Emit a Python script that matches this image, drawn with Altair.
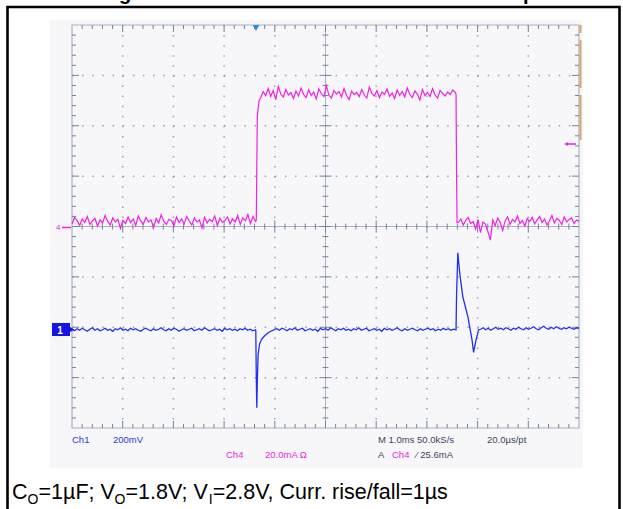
import altair as alt
import pandas as pd
import numpy as np

# ---------------- data (scope units: x 0..10 div, y -4..+4 div, 0 = centre line)
CH4_LOW_PRE = [0.05,0.18,0.12,0.02,0.15,0.08,0.20,0.04,0.11,0.16,0.01,0.13,0.07,0.22,0.10,0.03,
               0.17,0.09,0.14,-0.04,0.12,0.06,0.19,0.08,0.15,0.02,0.21,0.11,0.05,0.18,0.09,0.13,
               -0.02,0.16,0.07,0.23,0.10,0.04,0.14,0.12,0.01,0.19,0.08,0.15,0.05,0.20,0.11,0.03,
               0.17,0.09,0.13,-0.03,0.18,0.07,0.14,0.10,0.21,0.02,0.16,0.08,0.12,0.19,0.05,0.15,
               0.09,0.22,0.04,0.17,0.11,0.24,0.06,0.20,0.10]
CH4_LOW_PRE_SPAN = [0.0, 3.62]
CH4_RISE_T = [3.635, 3.645, 3.655, 3.69]
CH4_RISE_V = [0.12, 1.20, 2.20, 2.50]
CH4_HIGH = [2.55,2.68,2.60,2.74,2.58,2.70,2.52,2.78,2.63,2.57,2.72,2.61,2.66,2.54,2.69,2.59,
            2.75,2.62,2.56,2.71,2.60,2.67,2.53,2.73,2.64,2.58,2.79,2.61,2.55,2.70,2.63,2.68,
            2.57,2.74,2.60,2.52,2.69,2.62,2.66,2.58,2.72,2.61,2.55,2.77,2.64,2.59,2.70,2.56,
            2.67,2.62,2.73,2.58,2.65,2.54,2.71,2.60,2.68,2.57,2.75,2.62,2.56,2.69,2.63,2.51,
            2.72,2.60,2.66,2.58,2.74,2.61,2.55,2.70,2.64,2.59,2.67,2.62,2.71,2.66]
CH4_HIGH_SPAN = [3.72, 7.56]
CH4_FALL_T = [7.575, 7.585, 7.595]
CH4_FALL_V = [2.62, 1.00, 0.08]
CH4_LOW_POST = [0.08,0.15,0.03,0.12,0.18,0.06,0.10,-0.05,0.14,-0.12,0.09,0.05,-0.10,-0.27,0.13,
                0.02,0.17,0.08,-0.08,0.11,0.19,0.04,0.14,0.09,0.21,0.06,0.12,0.01,0.16,0.10,
                0.18,0.05,0.13,0.20,0.08,0.15,0.03,0.11,0.22,0.07,0.16,0.12,0.04,0.19,0.09,
                0.14,0.17,0.06,0.13,0.10]
CH4_LOW_POST_SPAN = [7.62, 10.0]

CH1_BASE_PRE = [-2.04,-2.07,-2.03,-2.06,-2.02,-2.05,-2.08,-2.04,-2.01,-2.06,-2.03,-2.07,-2.05,
                -2.02,-2.06,-2.04,-2.08,-2.03,-2.05,-2.01,-2.06,-2.04,-2.07,-2.02,-2.05,-2.03,
                -2.06,-2.08,-2.04,-2.02,-2.05,-2.07,-2.03,-2.06,-2.04,-2.01,-2.05,-2.07,-2.03,
                -2.06,-2.02,-2.04,-2.08,-2.05,-2.03,-2.06,-2.04,-2.02,-2.07,-2.05,-2.03,-2.06,
                -2.01,-2.04,-2.07,-2.05,-2.03,-2.06,-2.04,-2.08,-2.02,-2.05,-2.03,-2.06,-2.04,
                -2.07,-2.03,-2.05,-2.02,-2.06,-2.04,-2.07,-2.05]
CH1_BASE_PRE_SPAN = [0.0, 3.615]
CH1_SPIKE1_T = [3.625, 3.635, 3.645, 3.655, 3.67, 3.70, 3.74, 3.80, 3.87, 3.94]
CH1_SPIKE1_V = [-2.06, -3.00, -3.60, -3.10, -2.55, -2.33, -2.24, -2.17, -2.11, -2.07]
CH1_BASE_MID = [-2.05,-2.03,-2.06,-2.02,-2.04,-2.07,-2.03,-2.05,-2.01,-2.06,-2.04,-2.02,-2.07,
                -2.05,-2.03,-2.06,-2.04,-2.08,-2.02,-2.05,-2.03,-2.06,-2.01,-2.04,-2.07,-2.03,
                -2.05,-2.02,-2.06,-2.04,-2.07,-2.03,-2.05,-2.01,-2.06,-2.04,-2.02,-2.07,-2.05,
                -2.03,-2.06,-2.04,-2.08,-2.02,-2.05,-2.03,-2.06,-2.04,-2.01,-2.05,-2.07,-2.03,
                -2.06,-2.04,-2.02,-2.05,-2.07,-2.03,-2.06,-2.04,-2.02,-2.05,-2.03,-2.07,-2.04,
                -2.06,-2.02,-2.05,-2.03,-2.06,-2.04,-2.05]
CH1_BASE_MID_SPAN = [3.99, 7.575]
CH1_SPIKE2_T = [7.585, 7.61, 7.65, 7.71, 7.81, 7.89, 7.92, 7.97, 8.02]
CH1_SPIKE2_V = [-1.36, -0.52, -0.95, -1.40, -1.80, -2.25, -2.50, -2.25, -2.05]
CH1_BASE_POST = [-2.04,-2.01,-2.05,-2.02,-2.06,-2.03,-2.00,-2.04,-2.02,-2.05,-2.01,-2.03,-2.06,
                 -2.02,-2.04,-2.00,-2.03,-2.05,-2.01,-2.04,-2.02,-1.99,-2.03,-2.05,-2.01,-1.98,
                 -2.02,-2.04,-2.00,-2.03,-1.99,-2.02,-2.04,-2.01,-2.03,-2.00,-2.02,-2.04,-2.01,-2.02]
CH1_BASE_POST_SPAN = [8.06, 10.0]

# ---------------- geometry of the scope screen (pixels)
X0, X1 = 72, 579
Y0, Y1 = 25, 428
XC = (X0 + X1) / 2
YC = (Y0 + Y1) / 2
xs = alt.Scale(domain=[0, 10], range=[X0, X1])
ys = alt.Scale(domain=[-4, 4], range=[Y1, Y0])

def seg(span, vals):
    return list(np.linspace(span[0], span[1], len(vals))), list(vals)

def build(parts):
    t, v = [], []
    for pt, pv in parts:
        t += list(pt); v += list(pv)
    return pd.DataFrame({"t": t, "v": v, "o": range(len(t))})

ch4 = build([seg(CH4_LOW_PRE_SPAN, CH4_LOW_PRE), (CH4_RISE_T, CH4_RISE_V),
             seg(CH4_HIGH_SPAN, CH4_HIGH), (CH4_FALL_T, CH4_FALL_V),
             seg(CH4_LOW_POST_SPAN, CH4_LOW_POST)])
ch1 = build([seg(CH1_BASE_PRE_SPAN, CH1_BASE_PRE), (CH1_SPIKE1_T, CH1_SPIKE1_V),
             seg(CH1_BASE_MID_SPAN, CH1_BASE_MID), (CH1_SPIKE2_T, CH1_SPIKE2_V),
             seg(CH1_BASE_POST_SPAN, CH1_BASE_POST)])

GRID_X = [1, 2, 3, 4, 6, 7, 8, 9]
GRID_Y = [-3, -2, -1, 1, 2, 3]
minor_x = [round(v, 1) for v in np.arange(0, 10.01, 0.2) if abs(v - round(v)) > 1e-6]
minor_y = [round(v, 1) for v in np.arange(-4, 4.01, 0.2) if abs(v - round(v)) > 1e-6]
major_x = list(range(1, 10))
major_y = list(range(-3, 4))

one = pd.DataFrame({"a": [0]})
GRIDC = "#9aa2b8"
FRAMEC = "#a9b1c5"
TICKC = "#78829c"
MAG = "#f020e8"
BLU = "#2030f0"

layers = []
# light screen background
layers.append(alt.Chart(one).mark_rect(color="#f7f7f9").encode(
    x=alt.value(50), x2=alt.value(583), y=alt.value(20), y2=alt.value(468)))
# dotted graticule
layers.append(alt.Chart(pd.DataFrame({"g": GRID_X})).mark_rule(
    color=GRIDC, strokeWidth=1.5, strokeDash=[1.5, 8.58]).encode(
    x=alt.X("g:Q", scale=xs, axis=None), y=alt.value(Y0), y2=alt.value(Y1)))
layers.append(alt.Chart(pd.DataFrame({"g": GRID_Y})).mark_rule(
    color=GRIDC, strokeWidth=1.5, strokeDash=[1.5, 8.64]).encode(
    y=alt.Y("g:Q", scale=ys, axis=None), x=alt.value(X0), x2=alt.value(X1)))
# frame
layers.append(alt.Chart(one).mark_rect(fillOpacity=0, stroke=FRAMEC, strokeWidth=1.2).encode(
    x=alt.value(X0), x2=alt.value(X1), y=alt.value(Y0), y2=alt.value(Y1)))
# centre cross
layers.append(alt.Chart(one).mark_rule(color=FRAMEC, strokeWidth=1).encode(
    x=alt.value(XC), y=alt.value(Y0), y2=alt.value(Y1)))
layers.append(alt.Chart(one).mark_rule(color=FRAMEC, strokeWidth=1).encode(
    y=alt.value(YC), x=alt.value(X0), x2=alt.value(X1)))

def xticks(vals, ya, yb, w=1):
    return alt.Chart(pd.DataFrame({"p": vals})).mark_rule(color=TICKC, strokeWidth=w).encode(
        x=alt.X("p:Q", scale=xs, axis=None), y=alt.value(ya), y2=alt.value(yb))

def yticks(vals, xa, xb, w=1):
    return alt.Chart(pd.DataFrame({"p": vals})).mark_rule(color=TICKC, strokeWidth=w).encode(
        y=alt.Y("p:Q", scale=ys, axis=None), x=alt.value(xa), x2=alt.value(xb))

layers += [
    xticks(minor_x, Y0, Y0 + 4), xticks(major_x, Y0, Y0 + 7),
    xticks(minor_x, Y1 - 4, Y1), xticks(major_x, Y1 - 7, Y1),
    yticks(minor_y, X0, X0 + 4), yticks(major_y, X0, X0 + 7),
    yticks(minor_y, X1 - 4, X1), yticks(major_y, X1 - 7, X1),
    xticks(minor_x, YC - 3, YC + 3), xticks(major_x, YC - 6, YC + 6),
    yticks(minor_y, XC - 3, XC + 3), yticks(major_y, XC - 6, XC + 6),
]

# traces
layers.append(alt.Chart(ch4).mark_line(color=MAG, strokeWidth=1.2).encode(
    x=alt.X("t:Q", scale=xs, axis=None), y=alt.Y("v:Q", scale=ys, axis=None), order="o:Q"))
layers.append(alt.Chart(ch1).mark_line(color=BLU, strokeWidth=1.3).encode(
    x=alt.X("t:Q", scale=xs, axis=None), y=alt.Y("v:Q", scale=ys, axis=None), order="o:Q"))

# markers
layers.append(alt.Chart(one).mark_rect(color="#1414e6").encode(
    x=alt.value(52), x2=alt.value(70), y=alt.value(323), y2=alt.value(336)))
layers.append(alt.Chart(one).mark_text(text="1", color="white", fontSize=10, font="Liberation Sans",
                                       fontWeight="bold", align="center", baseline="alphabetic").encode(
    x=alt.value(60), y=alt.value(333.5)))
layers.append(alt.Chart(one).mark_point(shape="triangle-right", filled=True, color="#1414e6",
                                        size=30, opacity=1).encode(x=alt.value(72), y=alt.value(329.5)))
layers.append(alt.Chart(one).mark_text(text="4", color=MAG, fontSize=8, font="Liberation Sans",
                                       align="left", baseline="middle").encode(
    x=alt.value(56), y=alt.value(228)))
layers.append(alt.Chart(one).mark_rule(color=MAG, strokeWidth=1.5).encode(
    x=alt.value(62), x2=alt.value(71), y=alt.value(227.5)))
layers.append(alt.Chart(one).mark_rule(color=MAG, strokeWidth=1.5).encode(
    x=alt.value(567), x2=alt.value(576), y=alt.value(144)))
layers.append(alt.Chart(one).mark_point(shape="triangle-left", filled=True, color=MAG,
                                        size=18, opacity=1).encode(x=alt.value(566), y=alt.value(144)))
layers.append(alt.Chart(one).mark_point(shape="triangle-down", filled=True, color="#2090e8",
                                        size=45, opacity=1).encode(x=alt.value(256), y=alt.value(28)))
ORANGE_SEGS = pd.DataFrame({"a": [25, 40, 95], "b": [33, 88, 140]})
layers.append(alt.Chart(ORANGE_SEGS).mark_rule(color="#d9a56a", strokeWidth=2).encode(
    x=alt.value(580.5), y=alt.Y("a:Q", scale=None), y2="b:Q"))

# scope read-outs
READOUTS = [
    ("Ch1", 72, 443, "#2a3ad8"), ("200mV", 113, 443, "#2a3ad8"),
    ("Ch4", 226, 458, MAG), ("20.0mA  Ω", 265, 458, MAG),
    ("M 1.0ms 50.0kS/s", 378, 443, "#3c4460"), ("20.0µs/pt", 487, 443, "#3c4460"),
    ("A", 378, 458, "#3c4460"), ("Ch4", 392, 458, MAG), ("⁄  25.6mA", 416, 458, "#3c4460"),
]
for txt, x, y, c in READOUTS:
    layers.append(alt.Chart(one).mark_text(text=txt, color=c, fontSize=9.5, font="Liberation Sans",
                                           align="left", baseline="alphabetic").encode(
        x=alt.value(x), y=alt.value(y)))

# caption (main text pieces and subscripts)
CAPTION = [("C", 12, 499, 21.5), ("O", 27.5, 504, 14), ("=1µF; V", 38.5, 499, 21.5),
           ("O", 114.5, 504, 14), ("=1.8V; V", 125.5, 499, 21.5), ("I", 208.7, 504, 14),
           ("=2.8V, Curr. rise/fall=1µs", 212.8, 499, 21.5)]
for txt, x, y, fs in CAPTION:
    layers.append(alt.Chart(one).mark_text(text=txt, color="black", fontSize=fs, font="Liberation Sans",
                                           align="left", baseline="alphabetic").encode(
        x=alt.value(x), y=alt.value(y)))

# clipped title fragments at the very top
for txt, x in [("g", 119), ("p", 523)]:
    layers.append(alt.Chart(one).mark_text(text=txt, color="black", fontSize=20, font="Liberation Sans",
                                           fontWeight="bold", align="left", baseline="alphabetic").encode(
        x=alt.value(x), y=alt.value(0)))

# outer box
layers.append(alt.Chart(one).mark_rect(fillOpacity=0, stroke="black", strokeWidth=2.6).encode(
    x=alt.value(7.5), x2=alt.value(619.5), y=alt.value(7), y2=alt.value(540)))

chart = alt.layer(*layers).properties(
    width=623, height=509, padding=0, autosize=alt.AutoSizeParams(type="none"),
    background="white"
).configure_view(strokeWidth=0)

chart.save("out.html", embed_options={"renderer": "svg", "actions": False})
